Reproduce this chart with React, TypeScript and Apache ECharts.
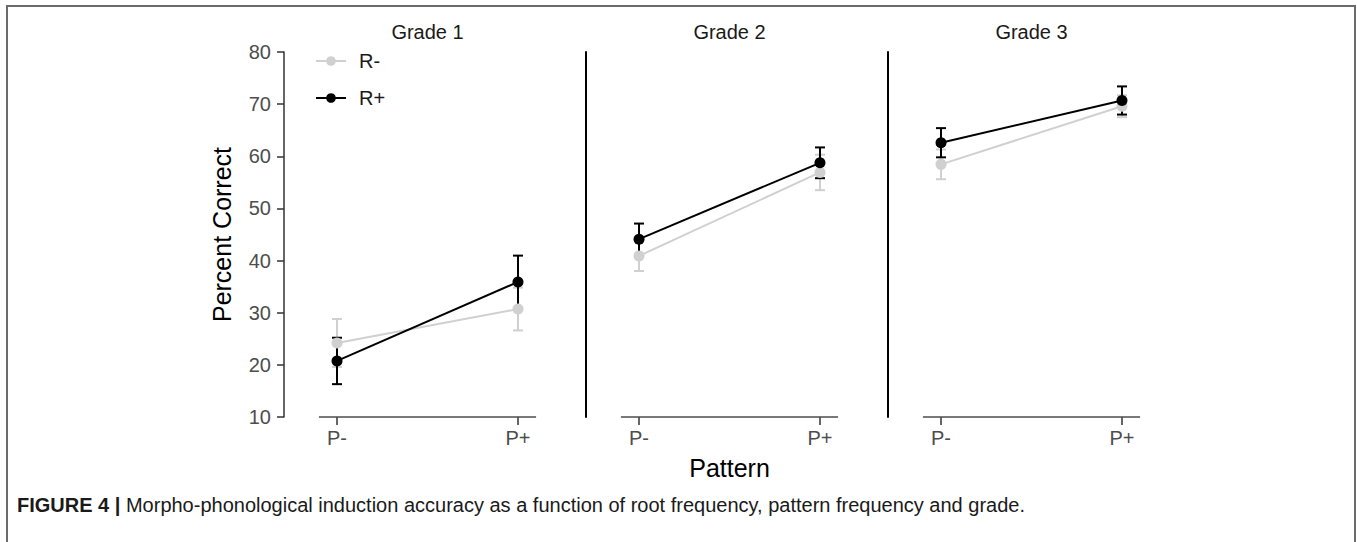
import React, { useEffect, useRef } from 'react';
import * as echarts from 'echarts';

const grades = ['Grade 1', 'Grade 2', 'Grade 3'];
const patterns = ['P-', 'P+'];
const seriesNames = ['R-', 'R+'];
const yTicks = [10, 20, 30, 40, 50, 60, 70, 80];

// mean percent correct per grade, [P-, P+]
const rMinusMean = [[24.2, 30.7], [40.9, 56.9], [58.45, 69.6]];
const rMinusErr = [[4.6, 4.1], [2.9, 3.4], [2.85, 2.1]];
const rPlusMean = [[20.75, 35.9], [44.1, 58.75], [62.6, 70.7]];
const rPlusErr = [[4.45, 5.05], [3.0, 2.95], [2.8, 2.7]];

const xLinePos = [0.9, 2.1];

const FONT = '"Liberation Sans", Arial, Helvetica, sans-serif';
const GRAY = '#d0d0d0';
const BLACK = '#000000';

const gridLeft0 = 284;
const gridStep = 302;
const gridWidth = 287;
const gridTop = 52;
const gridHeight = 365;

export default function App() {
  const ref = useRef<HTMLDivElement>(null);
  useEffect(() => {
    document.body.style.margin = '0';
    const chart = echarts.init(ref.current!, null, { renderer: 'svg' });

    const grids = grades.map((_, i) => ({
      left: gridLeft0 + gridStep * i,
      top: gridTop,
      width: gridWidth,
      height: gridHeight,
    }));

    const xAxes = grades.map((_, i) => ({
      type: 'value',
      gridIndex: i,
      min: 0.707,
      max: 2.293,
      splitLine: { show: false },
      axisLine: { show: false },
      axisTick: {
        show: true,
        customValues: [1, 2],
        length: 8,
        lineStyle: { color: '#333333', width: 1.5 },
      },
      axisLabel: {
        show: true,
        customValues: [1, 2],
        formatter: (v: number) => patterns[Math.round(v) - 1],
        color: '#4d4d4d',
        fontSize: 20,
        fontFamily: FONT,
        margin: 11,
      },
      name: i === 1 ? 'Pattern' : '',
      nameLocation: 'middle',
      nameGap: 38,
      nameTextStyle: { fontSize: 25, color: '#000', fontFamily: FONT },
    }));

    const yAxes = grades.map((_, i) => ({
      type: 'value',
      gridIndex: i,
      min: 10,
      max: 80,
      interval: 10,
      splitLine: { show: false },
      axisLine: {
        show: true,
        lineStyle: { color: i === 0 ? '#333333' : '#000000', width: i === 0 ? 1.5 : 2 },
      },
      axisTick: {
        show: i === 0,
        length: 7,
        lineStyle: { color: '#333333', width: 1.5 },
      },
      axisLabel: {
        show: i === 0,
        color: '#4d4d4d',
        fontSize: 20,
        fontFamily: FONT,
        margin: 13,
        customValues: yTicks,
      },
      name: i === 0 ? 'Percent Correct' : '',
      nameLocation: 'middle',
      nameGap: 50,
      nameTextStyle: { fontSize: 25, color: '#000', fontFamily: FONT },
    }));

    const errSeries = (idx: number, means: number[], errs: number[], color: string, name: string) => ({
      type: 'custom',
      name,
      xAxisIndex: idx,
      yAxisIndex: idx,
      silent: true,
      data: means.map((m, j) => [j + 1, m - errs[j], m + errs[j]]),
      encode: { x: 0, y: [1, 2] },
      renderItem: (_p: any, api: any) => {
        const x = api.value(0);
        const lo = api.coord([x, api.value(1)]);
        const hi = api.coord([x, api.value(2)]);
        const w = 5;
        const style = { stroke: color, lineWidth: 2 };
        return {
          type: 'group',
          children: [
            { type: 'line', shape: { x1: lo[0], y1: lo[1], x2: hi[0], y2: hi[1] }, style },
            { type: 'line', shape: { x1: lo[0] - w, y1: lo[1], x2: lo[0] + w, y2: lo[1] }, style },
            { type: 'line', shape: { x1: hi[0] - w, y1: hi[1], x2: hi[0] + w, y2: hi[1] }, style },
          ],
        };
      },
    });

    const lineSeries = (idx: number, means: number[], color: string, name: string, withAxis: boolean) => ({
      type: 'line',
      name,
      xAxisIndex: idx,
      yAxisIndex: idx,
      data: means.map((m, j) => [j + 1, m]),
      symbol: 'circle',
      symbolSize: 11,
      lineStyle: { color, width: 2 },
      itemStyle: { color },
      ...(withAxis
        ? {
            markLine: {
              silent: true,
              symbol: 'none',
              label: { show: false },
              lineStyle: { color: '#4d4d4d', width: 1.5, type: 'solid' },
              data: [[{ coord: [xLinePos[0], 10] }, { coord: [xLinePos[1], 10] }]],
            },
          }
        : {}),
    });

    const series: any[] = [];
    grades.forEach((_, i) => {
      series.push(errSeries(i, rMinusMean[i], rMinusErr[i], GRAY, 'R- error'));
      series.push(lineSeries(i, rMinusMean[i], GRAY, seriesNames[0], true));
      series.push(errSeries(i, rPlusMean[i], rPlusErr[i], BLACK, 'R+ error'));
      series.push(lineSeries(i, rPlusMean[i], BLACK, seriesNames[1], false));
    });

    const option = {
      animation: false,
      backgroundColor: '#ffffff',
      title: grades.map((g, i) => ({
        text: g,
        left: gridLeft0 + gridStep * i + gridWidth / 2,
        top: 22,
        textAlign: 'center',
        padding: 0,
        textStyle: { fontSize: 20, fontWeight: 'normal', color: '#1a1a1a', fontFamily: FONT },
      })),
      legend: {
        data: seriesNames,
        orient: 'vertical',
        left: 310,
        top: 45,
        itemWidth: 30,
        itemHeight: 12,
        itemGap: 15,
        textStyle: { fontSize: 20, color: '#1a1a1a', fontFamily: FONT, lineHeight: 22, padding: [0, 0, 0, 8] },
      },
      grid: grids,
      xAxis: xAxes,
      yAxis: yAxes,
      series,
      graphic: [
        {
          type: 'rect',
          shape: { x: 7, y: 6, width: 1348, height: 600 },
          style: { fill: 'none', stroke: '#6b6b6b', lineWidth: 2 },
          silent: true,
        },
        {
          type: 'text',
          left: 17,
          top: 495,
          style: {
            text: '{b|FIGURE 4 |} Morpho-phonological induction accuracy as a function of root frequency, pattern frequency and grade.',
            fontSize: 20,
            fontFamily: FONT,
            fill: '#1a1a1a',
            rich: { b: { fontWeight: 'bold', fontSize: 20, fontFamily: FONT } },
          },
        },
      ],
    };

    chart.setOption(option as any);
    return () => chart.dispose();
  }, []);
  return <div ref={ref} style={{ width: 1357, height: 542 }} />;
}
